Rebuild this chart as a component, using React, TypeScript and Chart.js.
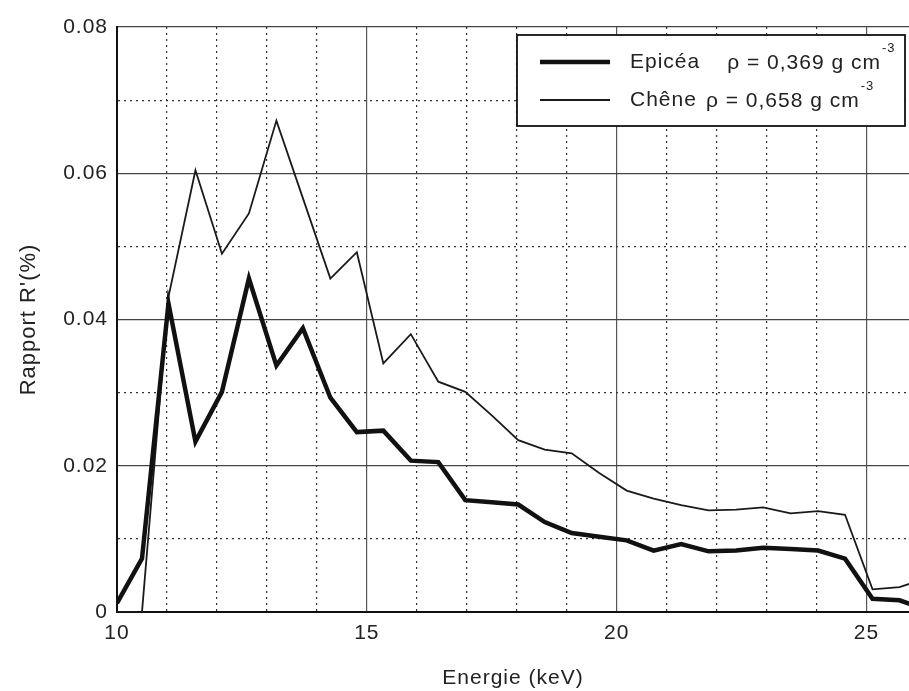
import React, { useEffect, useRef } from 'react';
import { Chart, registerables } from 'chart.js';

Chart.register(...registerables);

// ---- data ----
const energy = [10, 10.5, 11.03, 11.57, 12.1, 12.64, 13.19, 13.72, 14.27, 14.8, 15.33, 15.88, 16.43, 16.97, 17.5, 18.03, 18.56, 19.1, 19.65, 20.2, 20.74, 21.29, 21.84, 22.39, 22.93, 23.48, 24.03, 24.57, 25.12, 25.66, 26.2];
const epicea = [0.0012, 0.0073, 0.0422, 0.0233, 0.0301, 0.0456, 0.0337, 0.0388, 0.0293, 0.0246, 0.0248, 0.0207, 0.0205, 0.0153, 0.015, 0.0147, 0.0123, 0.0108, 0.0103, 0.0098, 0.0084, 0.0093, 0.0083, 0.0084, 0.0088, 0.0086, 0.0084, 0.0073, 0.0018, 0.0016, 0.0003];
const chene = [0, 0, 0.0431, 0.0604, 0.049, 0.0545, 0.0672, 0.0566, 0.0456, 0.0492, 0.034, 0.038, 0.0315, 0.0301, 0.0269, 0.0235, 0.0222, 0.0217, 0.019, 0.0166, 0.0155, 0.0146, 0.0139, 0.014, 0.0143, 0.0135, 0.0138, 0.0133, 0.0031, 0.0034, 0.0046];

const seriesNames = ['Epicéa', 'Chêne'];
const densityTexts = ['ρ = 0,369 g cm', 'ρ = 0,658 g cm'];
const densityExponent = '-3';

const xTickValues = [10, 11, 12, 13, 14, 15, 16, 17, 18, 19, 20, 21, 22, 23, 24, 25];
const xTickLabels = ['10', '', '', '', '', '15', '', '', '', '', '20', '', '', '', '', '25'];
const yTickValues = [0, 0.01, 0.02, 0.03, 0.04, 0.05, 0.06, 0.07, 0.08];
const yTickLabels = ['0', '', '0.02', '', '0.04', '', '0.06', '', '0.08'];

const xTitle = 'Energie (keV)';
const yTitle = "Rapport R'(%)";

const FONT = "'Liberation Sans', Arial, Helvetica, sans-serif";
const TEXT = '#222';

const spacingPlugin = {
  id: 'letterSpacing',
  beforeDraw(chart: any) {
    chart.ctx.letterSpacing = '1px';
  },
};

const legendPlugin = {
  id: 'boxLegend',
  afterDatasetsDraw(chart: any) {
    const { ctx, chartArea } = chart;
    const left = chartArea.right - 392;
    const top = chartArea.top + 8;
    const w = 388;
    const h = 91;
    ctx.save();
    ctx.letterSpacing = '1px';
    ctx.fillStyle = '#fff';
    ctx.fillRect(left, top, w, h);
    ctx.strokeStyle = '#111';
    ctx.lineWidth = 1.8;
    ctx.strokeRect(left, top, w, h);
    const rows = [top + 27, top + 65];
    const gaps = [27, 9];
    chart.data.datasets.forEach((ds: any, i: number) => {
      const y = rows[i];
      ctx.strokeStyle = ds.borderColor;
      ctx.lineWidth = ds.borderWidth;
      ctx.beginPath();
      ctx.moveTo(left + 23, y);
      ctx.lineTo(left + 93, y);
      ctx.stroke();
      ctx.fillStyle = TEXT;
      ctx.font = `21px ${FONT}`;
      ctx.textBaseline = 'middle';
      ctx.textAlign = 'left';
      const tx = left + 113;
      ctx.fillText(seriesNames[i], tx, y);
      const nameW = ctx.measureText(seriesNames[i]).width;
      const dx = tx + nameW + gaps[i];
      ctx.fillText(densityTexts[i], dx, y + 1);
      const dW = ctx.measureText(densityTexts[i]).width;
      ctx.font = `13px ${FONT}`;
      ctx.fillText(densityExponent, dx + dW + 1, y - 14);
    });
    ctx.restore();
  },
};

export default function App() {
  const ref = useRef<HTMLCanvasElement | null>(null);

  useEffect(() => {
    if (!ref.current) return;
    const chart = new Chart(ref.current, {
      type: 'line',
      data: {
        datasets: [
          {
            label: seriesNames[0],
            data: energy.map((x, i) => ({ x, y: epicea[i] })),
            borderColor: '#111',
            borderWidth: 4.5,
            pointRadius: 0,
            tension: 0,
            fill: false,
          },
          {
            label: seriesNames[1],
            data: energy.map((x, i) => ({ x, y: chene[i] })),
            borderColor: '#1a1a1a',
            borderWidth: 1.8,
            pointRadius: 0,
            tension: 0,
            fill: false,
          },
        ],
      },
      options: {
        responsive: false,
        animation: false,
        devicePixelRatio: 1,
        layout: { padding: { top: 27, right: 0, bottom: 0, left: 0 } },
        plugins: {
          legend: { display: false },
          tooltip: { enabled: false },
        },
        scales: {
          x: {
            type: 'linear',
            min: 10,
            max: 25.85,
            afterBuildTicks: (scale: any) => {
              scale.ticks = xTickValues.map((v) => ({ value: v }));
            },
            afterFit: (scale: any) => {
              scale.height = 79;
            },
            ticks: {
              autoSkip: false,
              maxRotation: 0,
              padding: 9,
              color: TEXT,
              font: { size: 21, family: FONT },
              callback: (value: any) => {
                const i = xTickValues.indexOf(Number(value));
                return i >= 0 ? xTickLabels[i] : '';
              },
            },
            grid: {
              drawTicks: false,
              lineWidth: 1.2,
              color: (ctx: any) => {
                const i = ctx.tick ? xTickValues.indexOf(ctx.tick.value) : -1;
                return i >= 0 && xTickLabels[i] !== '' ? '#555' : '#333';
              },
            },
            border: {
              display: true,
              color: '#111',
              width: 2,
              dash: (ctx: any) => {
                if (!ctx.tick) return [];
                const i = xTickValues.indexOf(ctx.tick.value);
                return i >= 0 && xTickLabels[i] === '' ? [2, 4] : [];
              },
            },
            title: {
              display: true,
              text: xTitle,
              color: TEXT,
              font: { size: 21, family: FONT },
              padding: { top: 0, bottom: 0 },
            },
          },
          y: {
            type: 'linear',
            min: 0,
            max: 0.08,
            afterBuildTicks: (scale: any) => {
              scale.ticks = yTickValues.map((v) => ({ value: v }));
            },
            afterFit: (scale: any) => {
              scale.width = 117;
            },
            ticks: {
              autoSkip: false,
              padding: 9,
              color: TEXT,
              font: { size: 21, family: FONT },
              callback: (value: any) => {
                const i = yTickValues.indexOf(Number(value));
                return i >= 0 ? yTickLabels[i] : '';
              },
            },
            grid: {
              drawTicks: false,
              lineWidth: 1.2,
              color: (ctx: any) => {
                const i = ctx.tick ? yTickValues.indexOf(ctx.tick.value) : -1;
                return i >= 0 && yTickLabels[i] !== '' ? '#444' : '#333';
              },
            },
            border: {
              display: true,
              color: '#111',
              width: 2,
              dash: (ctx: any) => {
                if (!ctx.tick) return [];
                const i = yTickValues.indexOf(ctx.tick.value);
                return i >= 0 && yTickLabels[i] === '' ? [2, 4] : [];
              },
            },
            title: {
              display: true,
              text: yTitle,
              color: TEXT,
              font: { size: 22, family: FONT },
              padding: { top: 16, bottom: 0 },
            },
          },
        },
      },
      plugins: [spacingPlugin, legendPlugin],
    } as any);
    return () => chart.destroy();
  }, []);

  return (
    <div style={{ position: 'fixed', left: 0, top: 0, width: 909, height: 691, background: '#fff' }}>
      <canvas ref={ref} width={909} height={691} style={{ display: 'block' }} />
    </div>
  );
}
